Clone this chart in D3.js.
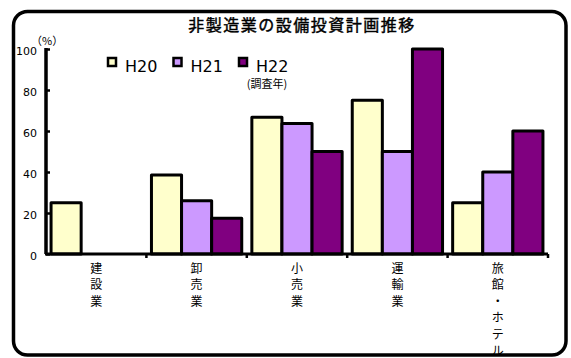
<!DOCTYPE html>
<html>
<head>
<meta charset="utf-8">
<script src="https://cdn.jsdelivr.net/npm/d3@7"></script>
<style>
  html, body { margin: 0; padding: 0; background: #fff; }
  svg { display: block; }
</style>
</head>
<body>
<svg id="chart" width="571" height="358"></svg>
<script>
// 非製造業の設備投資計画推移 (%)
const categories = ["建設業", "卸売業", "小売業", "運輸業", "旅館・ホテル"];
const seriesNames = ["H20", "H21", "H22"];
const seriesColors = ["#FFFFCC", "#CC99FF", "#800080"];
const valuesH20 = [25, 38.5, 66.7, 75, 25];
const valuesH21 = [0, 26, 63.6, 50, 40];
const valuesH22 = [0, 17.4, 50, 100, 60];
const yTicks = [0, 20, 40, 60, 80, 100];

const seriesValues = [valuesH20, valuesH21, valuesH22];
const rows = categories.map((c, i) => ({
  category: c,
  values: seriesNames.map((s, j) => ({ series: s, value: seriesValues[j][i], color: seriesColors[j] }))
}));

const svg = d3.select("#chart");
const JP = "'Noto Sans CJK JP', 'Noto Sans', sans-serif";
const LAT = "'DejaVu Sans', sans-serif";

// outer rounded frame
svg.append("rect")
  .attr("x", 13.5).attr("y", 11.5)
  .attr("width", 552.5).attr("height", 343.5)
  .attr("rx", 14).attr("ry", 14)
  .attr("fill", "#fff").attr("stroke", "#000").attr("stroke-width", 3.5);

// title
svg.append("text")
  .attr("x", 302).attr("y", 24)
  .attr("text-anchor", "middle")
  .attr("dominant-baseline", "central")
  .attr("font-family", JP).attr("font-size", 16)
  .attr("letter-spacing", "1.5px")
  .attr("fill", "#000").attr("stroke", "#000").attr("stroke-width", 0.45)
  .text("非製造業の設備投資計画推移");

// scales
const x0 = d3.scaleBand().domain(categories).range([46, 548]);
const x1 = d3.scaleBand().domain(seriesNames).range([0, x0.bandwidth()]).paddingOuter(0.168);
const y = d3.scaleLinear().domain([0, 100]).range([254, 49]);

// bars
const groups = svg.append("g").selectAll("g")
  .data(rows).join("g")
  .attr("transform", d => `translate(${x0(d.category)},0)`);

groups.selectAll("rect")
  .data(d => d.values.filter(v => v.value > 0))
  .join("rect")
  .attr("x", d => x1(d.series))
  .attr("width", x1.bandwidth())
  .attr("y", d => y(d.value))
  .attr("height", d => y(0) - y(d.value))
  .attr("fill", d => d.color)
  .attr("stroke", "#000").attr("stroke-width", 3)
  .attr("stroke-linejoin", "round");

// y axis: inward ticks, labels drawn separately
const yAxis = svg.append("g").attr("transform", "translate(46,0)")
  .call(d3.axisRight(y).tickValues(yTicks).tickSize(4).tickFormat(""));
yAxis.select(".domain").remove();
yAxis.selectAll(".tick line").attr("stroke", "#000").attr("stroke-width", 2.5);

// vertical axis bar
svg.append("rect")
  .attr("x", 44.25).attr("y", y(100) - 1)
  .attr("width", 3.5).attr("height", y(0) - y(100) + 1)
  .attr("fill", "#000");

svg.append("g").selectAll("text")
  .data(yTicks).join("text")
  .attr("x", 37).attr("y", d => y(d) + 2.5)
  .attr("text-anchor", "end")
  .attr("dominant-baseline", "central")
  .attr("font-family", LAT).attr("font-size", 11)
  .attr("fill", "#000")
  .text(d => d);

svg.append("text")
  .attr("x", 31).attr("y", 40)
  .attr("dominant-baseline", "central")
  .attr("font-family", JP).attr("font-size", 11)
  .attr("fill", "#000")
  .text("（%）");

// x axis with category boundary ticks
const boundaries = categories.map(c => x0(c) + x0.bandwidth());
const xAxis = svg.append("g");
xAxis.append("line")
  .attr("x1", 45).attr("x2", 548)
  .attr("y1", y(0)).attr("y2", y(0))
  .attr("stroke", "#000").attr("stroke-width", 3);
xAxis.selectAll(".bt")
  .data(boundaries).join("line")
  .attr("class", "bt")
  .attr("x1", d => d).attr("x2", d => d)
  .attr("y1", y(0)).attr("y2", y(0) + 4)
  .attr("stroke", "#000").attr("stroke-width", 2.5);

// vertical category labels
const lineStep = 16.5;
const labels = svg.append("g").selectAll("text")
  .data(categories).join("text")
  .attr("text-anchor", "middle")
  .attr("font-family", JP).attr("font-size", 12)
  .attr("fill", "#000");
labels.each(function (c) {
  const t = d3.select(this);
  Array.from(c).forEach((ch, i) => {
    t.append("tspan")
      .attr("x", x0(c) + x0.bandwidth() / 2)
      .attr("y", 267 + i * lineStep)
      .attr("dominant-baseline", "central")
      .text(ch);
  });
});

// legend
const legendX = [112, 177.5, 243];
const legend = svg.append("g").selectAll("g")
  .data(seriesNames).join("g")
  .attr("transform", (d, i) => `translate(${legendX[i]},62)`);
legend.append("rect")
  .attr("x", -4).attr("y", -4).attr("width", 8).attr("height", 8)
  .attr("fill", (d, i) => seriesColors[i])
  .attr("stroke", "#000").attr("stroke-width", 2.5);
legend.append("text")
  .attr("x", 13).attr("y", 10)
  .attr("font-family", LAT).attr("font-size", 16)
  .attr("fill", "#000")
  .text(d => d);

svg.append("text")
  .attr("x", 267).attr("y", 83)
  .attr("text-anchor", "middle")
  .attr("dominant-baseline", "central")
  .attr("font-family", JP).attr("font-size", 11)
  .attr("fill", "#000")
  .text("(調査年)");
</script>
</body>
</html>
